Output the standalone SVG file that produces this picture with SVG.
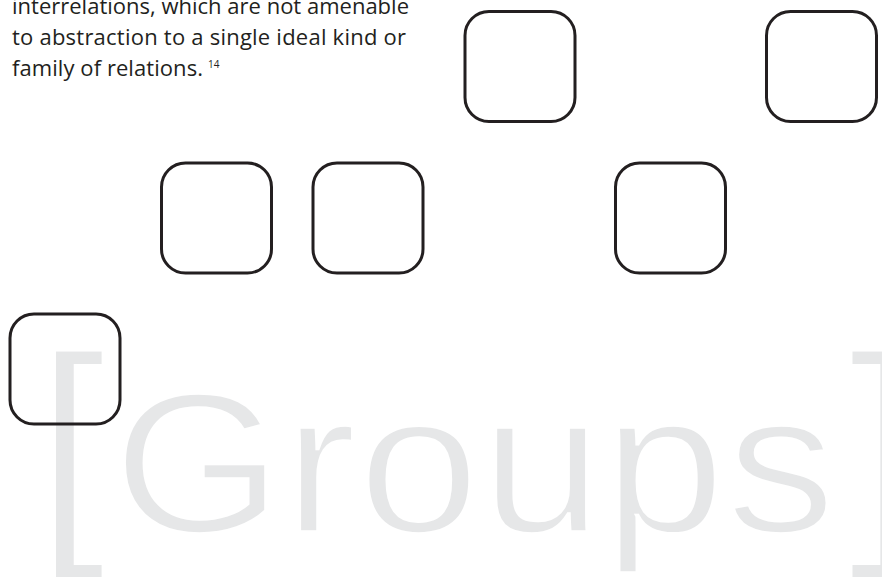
<svg xmlns="http://www.w3.org/2000/svg" width="882" height="577" viewBox="0 0 882 577">
  <style>
    .box { fill: none; stroke: #231f20; stroke-width: 3; }
    .body { font-family: "Open Sans", "Liberation Sans", sans-serif; font-size: 22px; fill: #231f20; }
    .sup { font-family: "Open Sans", "Liberation Sans", sans-serif; font-size: 10px; fill: #231f20; }
    .big { font-family: "Liberation Sans", Arial, sans-serif; fill: #e6e7e8; stroke: #ffffff; }
  </style>
  <rect width="882" height="577" fill="#ffffff"/>
  <g id="title">
    <text class="big" x="37" y="528" font-size="245" stroke-width="3">[</text>
    <text class="big" transform="translate(113,532) scale(1.1,1)" x="0" y="0" font-size="198" letter-spacing="1.5" stroke-width="3.6">Groups</text>
    <text class="big" x="849" y="528" font-size="245" stroke-width="3">]</text>
  </g>
  <g id="paragraph">
    <text class="body" x="12" y="14" textLength="397" lengthAdjust="spacing">interrelations, which are not amenable</text>
    <text class="body" x="12" y="45" textLength="394" lengthAdjust="spacing">to abstraction to a single ideal kind or</text>
    <text class="body" x="12" y="76" textLength="191" lengthAdjust="spacing">family of relations.</text>
    <text class="sup" x="208" y="68">14</text>
  </g>
  <g id="connectors"/>
  <g id="node1"><rect class="box" x="465" y="11.5" width="110" height="110" rx="24"/></g>
  <g id="node2"><rect class="box" x="766.5" y="11.5" width="110" height="110" rx="24"/></g>
  <g id="node3"><rect class="box" x="161.5" y="163" width="110" height="110" rx="24"/></g>
  <g id="node4"><rect class="box" x="313" y="163" width="110" height="110" rx="24"/></g>
  <g id="node5"><rect class="box" x="615.5" y="163" width="110" height="110" rx="24"/></g>
  <g id="node6"><rect class="box" x="10" y="314" width="110" height="110" rx="24"/></g>
</svg>
